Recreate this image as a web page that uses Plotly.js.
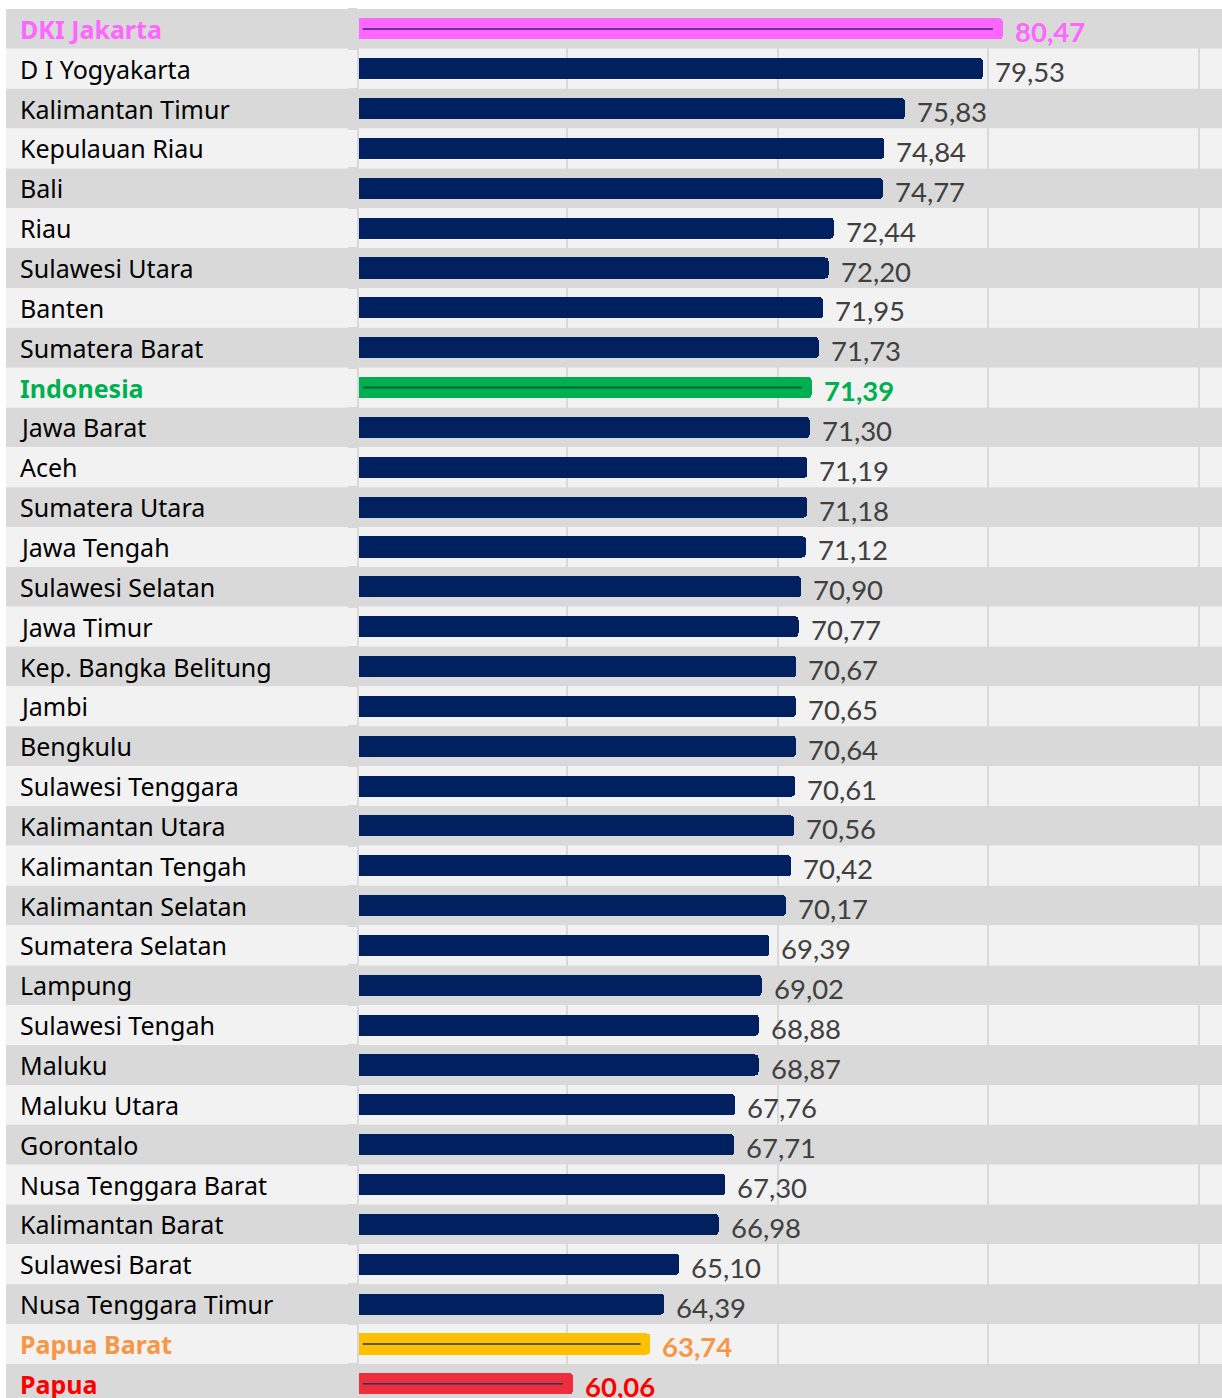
<!DOCTYPE html>
<html><head><meta charset="utf-8">
<script src="https://cdn.plot.ly/plotly-3.0.1.min.js"></script>
<style>html,body{margin:0;padding:0;background:#fff;overflow:hidden}#chart{width:1222px;height:1398px;}</style>
</head><body><div id="chart"></div>
<script>
const categories = ['DKI Jakarta','D I Yogyakarta','Kalimantan Timur','Kepulauan Riau','Bali','Riau','Sulawesi Utara','Banten','Sumatera Barat','Indonesia','Jawa Barat','Aceh','Sumatera Utara','Jawa Tengah','Sulawesi Selatan','Jawa Timur','Kep. Bangka Belitung','Jambi','Bengkulu','Sulawesi Tenggara','Kalimantan Utara','Kalimantan Tengah','Kalimantan Selatan','Sumatera Selatan','Lampung','Sulawesi Tengah','Maluku','Maluku Utara','Gorontalo','Nusa Tenggara Barat','Kalimantan Barat','Sulawesi Barat','Nusa Tenggara Timur','Papua Barat','Papua'];
const values = [80.47,79.53,75.83,74.84,74.77,72.44,72.20,71.95,71.73,71.39,71.30,71.19,71.18,71.12,70.90,70.77,70.67,70.65,70.64,70.61,70.56,70.42,70.17,69.39,69.02,68.88,68.87,67.76,67.71,67.30,66.98,65.10,64.39,63.74,60.06];
const highlightNames = ['DKI Jakarta','Indonesia','Papua Barat','Papua'];
const highlightBarColors = ['#ff66ff','#00b050','#ffc000','#ee2e3c'];
const highlightTextColors = ['#ff66ff','#00b050','#f79646','#ff0000'];
const highlightLineColors = ['#7030a0','#00603a','#1f3864','#1f3864'];
const highlightLineWidths = [2, 2, 1.5, 1.5];
const defaultBarColor = '#002060';
const defaultTextColor = '#404040';

const W = 1222, H = 1398, L = 359, T = 9;
const xMin = 49.9, pxPerUnit = 21.06;
const xMax = xMin + (W - L) / pxPerUnit;
const rowPx = 39.85;
const nRows = (H - T) / rowPx;

const hIdx = c => highlightNames.indexOf(c);
const barColors = categories.map(c => hIdx(c) >= 0 ? highlightBarColors[hIdx(c)] : defaultBarColor);

const traces = [{
  type: 'bar', orientation: 'h',
  x: values, y: categories,
  width: 0.53,
  marker: {color: barColors, cornerradius: 4, line: {width: 0}},
  hoverinfo: 'none'
}];
highlightNames.forEach((n, k) => {
  const i = categories.indexOf(n);
  traces.push({
    type: 'scatter', mode: 'lines',
    x: [xMin + 0.18, values[i] - 0.47], y: [n, n],
    line: {color: highlightLineColors[k], width: highlightLineWidths[k]},
    hoverinfo: 'none', showlegend: false
  });
});

const shapes = categories.map((c, i) => ({
  type: 'rect', xref: 'paper', yref: 'y',
  x0: (6 - L) / (W - L), x1: 1, y0: i - 0.5, y1: i + 0.5,
  fillcolor: i % 2 === 0 ? '#d9d9d9' : '#f2f2f2',
  line: {width: 0},
  layer: i % 2 === 0 ? 'between' : 'below'
}));

const fmt = v => v.toFixed(2).replace('.', ',');
const annotations = [];
categories.forEach((c, i) => {
  const k = hIdx(c);
  annotations.push({
    xref: 'paper', yref: 'y', x: (18 - L) / (W - L), y: c,
    xanchor: 'left', yanchor: 'middle', yshift: 0, showarrow: false,
    text: k >= 0 ? '<b>' + c + '</b>' : c,
    font: {family: 'Noto Sans, sans-serif', size: 25, color: k >= 0 ? highlightTextColors[k] : '#000000'}
  });
  annotations.push({
    xref: 'x', yref: 'y', x: values[i], y: c,
    xanchor: 'left', yanchor: 'middle', xshift: 10, yshift: -3, showarrow: false,
    text: k >= 0 ? '<b>' + fmt(values[i]) + '</b>' : fmt(values[i]),
    font: {family: 'Lato, sans-serif', size: 27.5, color: k >= 0 ? highlightTextColors[k] : defaultTextColor}
  });
});

const layout = {
  width: W, height: H, autosize: false,
  margin: {l: L, r: 0, t: T, b: 0, pad: 0},
  paper_bgcolor: '#ffffff', plot_bgcolor: '#ffffff',
  showlegend: false,
  xaxis: {range: [xMin, xMax], tickmode: 'linear', tick0: 59.79, dtick: 10,
          showgrid: true, gridcolor: '#d9d9d9', gridwidth: 2, zeroline: false,
          showticklabels: false, ticks: '', showline: false, fixedrange: true},
  yaxis: {type: 'category', range: [-0.5 + nRows, -0.5], autorange: false,
          showticklabels: false, showgrid: false, zeroline: false,
          ticks: 'outside', tickson: 'boundaries', ticklen: 9, tickwidth: 2, tickcolor: '#d9d9d9',
          showline: true, linecolor: '#d9d9d9', linewidth: 2, fixedrange: true},
  shapes: shapes,
  annotations: annotations,
  bargap: 0
};

Plotly.newPlot('chart', traces, layout, {displayModeBar: false, staticPlot: true});
</script>
</body></html>
